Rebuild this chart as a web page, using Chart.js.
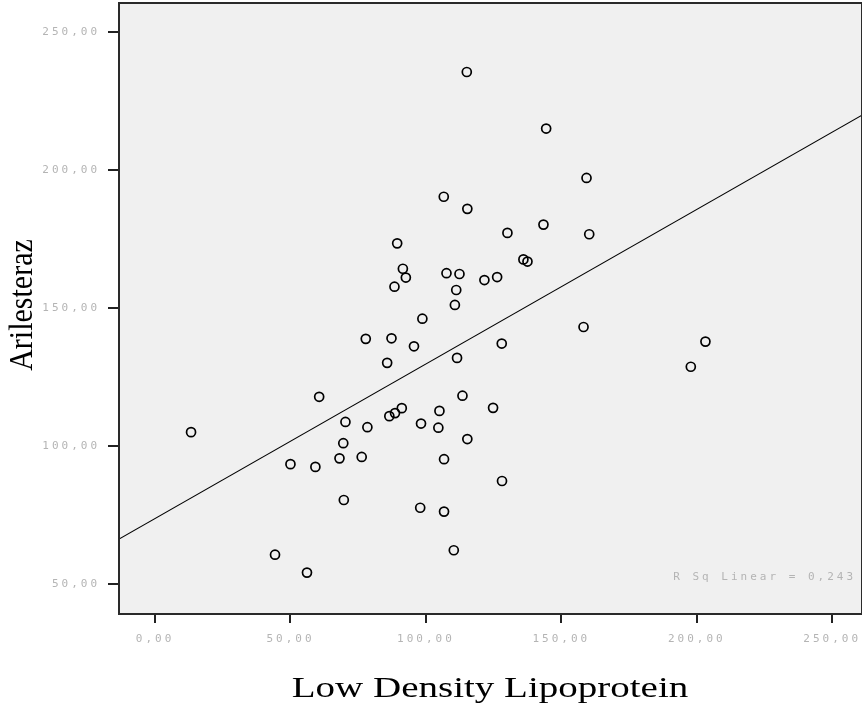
<!DOCTYPE html>
<html>
<head>
<meta charset="utf-8">
<script src="https://cdn.jsdelivr.net/npm/chart.js@4/dist/chart.umd.min.js"></script>
<style>
  html, body { margin: 0; padding: 0; background: #fff; }
  #wrap { width: 862px; height: 710px; }
</style>
</head>
<body>
<div id="wrap"><canvas id="grafico"></canvas></div>
<script>
// LDL (x) y arilesteraz (y) de cada paciente
const ldl = [
  115.1, 144.4, 159.3, 106.6, 115.3, 143.4, 130.1, 160.3, 89.4, 91.5,
  92.6, 88.4, 107.6, 112.4, 121.6, 126.3, 136.0, 137.5, 111.2, 110.7,
  98.7, 77.8, 87.3, 95.6, 85.7, 111.5, 128.0, 158.2, 203.2, 197.8,
  60.6, 13.3, 113.5, 124.8, 70.3, 78.4, 86.5, 88.6, 91.1, 105.0,
  98.2, 104.6, 115.3, 69.5, 50.0, 59.2, 68.1, 76.3, 106.7, 128.1,
  69.7, 97.9, 106.7, 44.3, 56.1, 110.3
];
const arilesteraz = [
  235.5, 215.0, 197.1, 190.3, 185.9, 180.2, 177.2, 176.7, 173.4, 164.2,
  161.0, 157.7, 162.6, 162.3, 160.1, 161.2, 167.6, 166.8, 156.5, 151.1,
  146.1, 138.8, 139.0, 136.1, 130.1, 131.9, 137.1, 143.1, 137.8, 128.7,
  117.8, 105.0, 118.2, 113.8, 108.7, 106.8, 110.8, 111.9, 113.7, 112.7,
  108.1, 106.6, 102.5, 101.0, 93.4, 92.4, 95.5, 96.0, 95.2, 87.3,
  80.4, 77.6, 76.2, 60.6, 54.1, 62.2
];

// recta de ajuste lineal y R²
const ajusteCorte = 73.7;
const ajustePendiente = 0.56;
const rCuadrado = "0,243";

// limites de los ejes
const xMin = -13.3, xMax = 261;
const yMin = 39.1, yMax = 260.5;

const puntos = ldl.map((x, i) => ({ x, y: arilesteraz[i] }));
const recta = [xMin, xMax].map(x => ({ x, y: ajusteCorte + ajustePendiente * x }));
const fmt = v => v.toFixed(2).replace(".", ",");

const marco = {
  id: "marco",
  beforeDraw(chart) {
    const { ctx, chartArea: a } = chart;
    ctx.letterSpacing = "3px";
    ctx.save();
    ctx.fillStyle = "#f0f0f0";
    ctx.fillRect(a.left, a.top, a.right - a.left, a.bottom - a.top);
    ctx.restore();
  },
  afterDraw(chart) {
    const { ctx, chartArea: a } = chart;
    ctx.save();
    ctx.strokeStyle = "#2a2a2a";
    ctx.lineWidth = 2;
    ctx.strokeRect(a.left, a.top, a.right - a.left, a.bottom - a.top);

    // etiqueta R²
    ctx.fillStyle = "#b4b4b4";
    ctx.font = "11px 'DejaVu Sans Mono'";
    ctx.textAlign = "right";
    ctx.textBaseline = "middle";
    ctx.fillText("R Sq Linear = " + rCuadrado, a.right - 6, 577);

    // titulos de los ejes (texto estirado en horizontal)
    ctx.letterSpacing = "0px";
    ctx.fillStyle = "#000";
    ctx.font = "30px 'Liberation Serif'";
    ctx.textAlign = "center";
    ctx.textBaseline = "middle";
    ctx.save();
    ctx.translate(490, 689);
    ctx.scale(1.3, 1);
    ctx.fillText("Low Density Lipoprotein", 0, 0);
    ctx.restore();
    ctx.save();
    ctx.translate(23, 305);
    ctx.scale(1.15, 1);
    ctx.rotate(-Math.PI / 2);
    ctx.fillText("Arilesteraz", 0, 0);
    ctx.restore();
    ctx.restore();
  }
};

const ticksComunes = {
  color: "#b4b4b4",
  font: { family: "DejaVu Sans Mono", size: 11 },
  stepSize: 50,
  includeBounds: false,
  callback: v => fmt(v)
};

new Chart(document.getElementById("grafico"), {
  type: "scatter",
  data: {
    datasets: [
      {
        data: puntos,
        pointRadius: 4.5,
        pointBorderWidth: 1.7,
        borderColor: "#000",
        backgroundColor: "rgba(0,0,0,0)",
        pointHoverRadius: 4.5
      },
      {
        data: recta,
        showLine: true,
        pointRadius: 0,
        borderColor: "#000",
        borderWidth: 1.2
      }
    ]
  },
  options: {
    responsive: true,
    maintainAspectRatio: false,
    animation: false,
    devicePixelRatio: 1,
    layout: { autoPadding: false, padding: { top: 3, right: 0, left: 0, bottom: 0 } },
    plugins: { legend: { display: false }, tooltip: { enabled: false } },
    scales: {
      x: {
        type: "linear",
        min: xMin,
        max: xMax,
        border: { display: false },
        grid: { drawOnChartArea: false, color: "#222", lineWidth: 2, tickLength: 9 },
        ticks: { ...ticksComunes, padding: 10, maxRotation: 0 },
        afterFit: s => {
          s.height = 96;
          s.paddingLeft = 0;
          s.paddingRight = 0;
        }
      },
      y: {
        type: "linear",
        min: yMin,
        max: yMax,
        border: { display: false },
        grid: { drawOnChartArea: false, color: "#222", lineWidth: 2, tickLength: 11 },
        ticks: { ...ticksComunes, padding: 8 },
        afterFit: s => {
          s.width = 119;
          s.paddingTop = 0;
          s.paddingBottom = 0;
        }
      }
    }
  },
  plugins: [marco]
});
</script>
</body>
</html>
